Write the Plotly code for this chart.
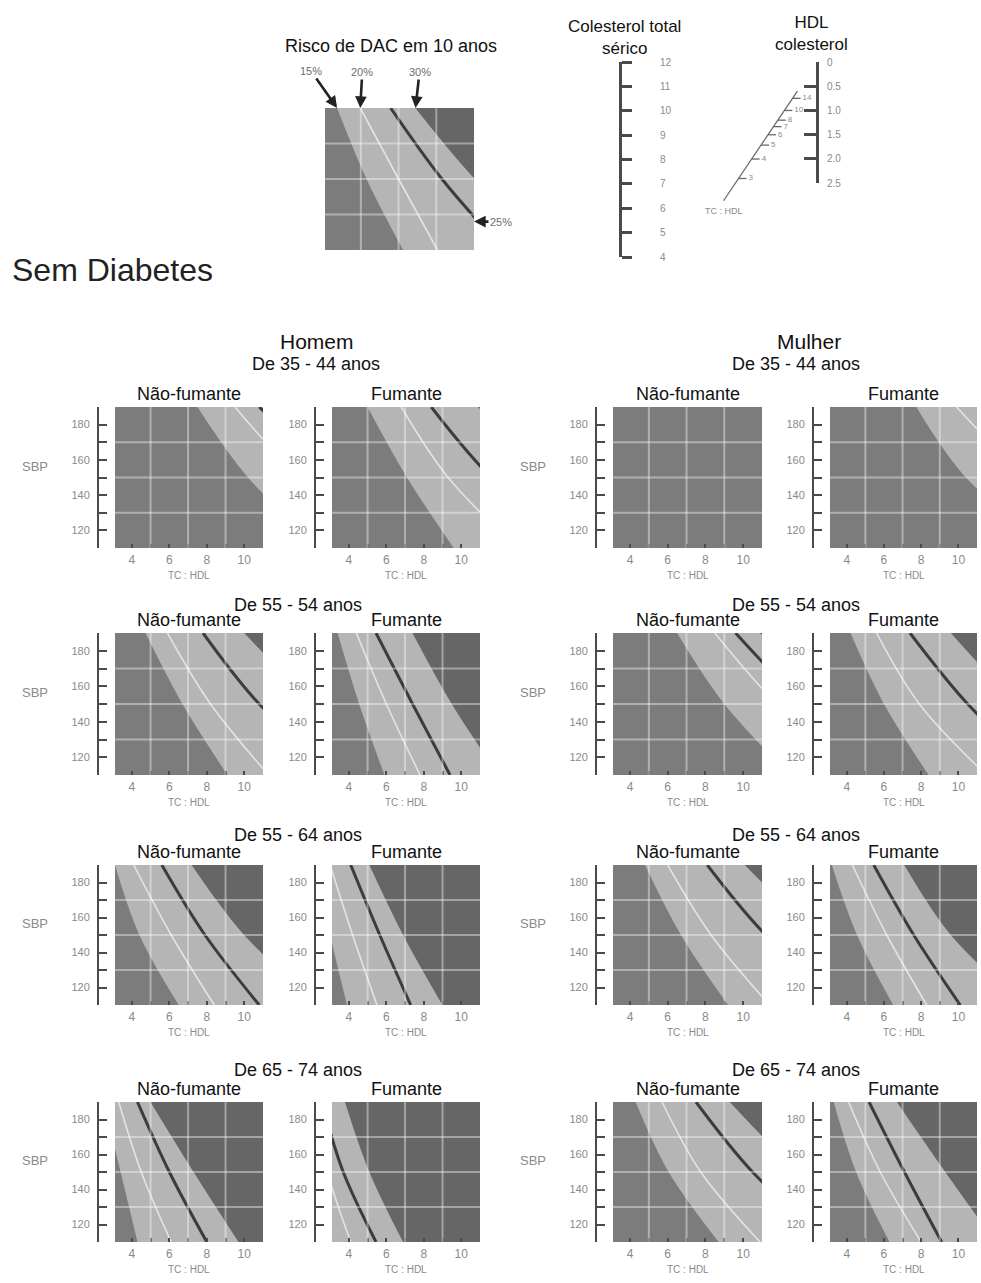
import plotly.graph_objects as go

W, H = 981, 1283
FONT = "Liberation Sans, Arial, sans-serif"

# ---------------- data ----------------
# SBP levels at which each iso-risk curve is read (TC:HDL value of the curve at that SBP)
SBP_PTS = [110, 150, 190]
X_RANGE = [3.1, 11.0]
Y_RANGE = [110, 190]
X_FAR = 60
GRID_X = [5, 7, 9]
GRID_Y = [130, 150, 170]
X_TICK0, X_DTICK = 4, 2
SBP_TICKS = [110, 120, 130, 140, 150, 160, 170, 180, 190]
SBP_TICK_LABELS = ["", "120", "", "140", "", "160", "", "180", ""]

RISK_LABELS = ["15%", "20%", "25%", "30%"]

# Legend panel
LEG_15 = [7.24, 5.3, 3.74]
LEG_20 = [9.06, 7.0, 4.97]
LEG_25 = [12.6, 9.3, 6.58]
LEG_30 = [15.0, 11.05, 7.9]
LEG_25_EXIT_SBP = 126

# Homem (men)
H35_NF_15 = [14.1, 10.2, 7.5];  H35_NF_20 = [18.0, 13.0, 9.5];  H35_NF_25 = [20.8, 15.0, 10.8]; H35_NF_30 = [26.0, 18.7, 13.5]
H35_F_15 = [9.6, 7.1, 5.0];     H35_F_20 = [13.0, 9.3, 6.8];    H35_F_25 = [16.1, 11.6, 8.4];   H35_F_30 = [21.0, 15.2, 10.9]
H45_NF_15 = [9.1, 6.7, 4.73];   H45_NF_20 = [11.3, 8.2, 5.9];   H45_NF_25 = [15.0, 10.8, 7.8];  H45_NF_30 = [19.2, 13.9, 10.0]
H45_F_15 = [5.9, 4.55, 3.4];    H45_F_20 = [7.8, 6.0, 4.4];     H45_F_25 = [9.4, 7.4, 5.45];    H45_F_30 = [12.0, 9.5, 7.4]
H55_NF_15 = [6.5, 4.4, 3.1];    H55_NF_20 = [8.4, 6.1, 4.1];    H55_NF_25 = [10.8, 7.9, 5.6];   H55_NF_30 = [14.0, 10.0, 7.2]
H55_F_15 = [3.9, 3.0, 2.2];     H55_F_20 = [5.5, 4.2, 3.0];     H55_F_25 = [7.3, 5.65, 4.1];    H55_F_30 = [9.0, 6.9, 5.1]
H65_NF_15 = [4.3, 3.4, 2.5];    H65_NF_20 = [6.1, 4.5, 3.3];    H65_NF_25 = [8.0, 6.0, 4.3];    H65_NF_30 = [9.7, 7.3, 5.0]
H65_F_15 = [3.0, 2.2, 1.6];     H65_F_20 = [4.1, 2.85, 2.0];    H65_F_25 = [5.45, 3.7, 2.55];   H65_F_30 = [6.9, 5.1, 3.8]

# Mulher (women)
M35_NF_15 = [23.0, 16.6, 12.0]; M35_NF_20 = [29.0, 21.0, 15.0]; M35_NF_25 = [36.0, 26.0, 19.0]; M35_NF_30 = [46.0, 33.0, 24.0]
M35_F_15 = [14.9, 10.4, 7.74];  M35_F_20 = [19.0, 13.7, 9.9];   M35_F_25 = [23.8, 17.2, 12.4];  M35_F_30 = [29.8, 21.5, 15.5]
M45_NF_15 = [12.5, 9.0, 6.5];   M45_NF_20 = [16.3, 11.8, 8.5];  M45_NF_25 = [18.4, 13.3, 9.6];  M45_NF_30 = [21.0, 15.1, 10.9]
M45_F_15 = [8.4, 6.0, 4.2];     M45_F_20 = [11.5, 7.9, 5.6];    M45_F_25 = [14.5, 10.5, 7.4];   M45_F_30 = [18.5, 13.3, 9.6]
M55_NF_15 = [9.2, 6.7, 4.8];    M55_NF_20 = [11.4, 8.3, 6.0];   M55_NF_25 = [15.5, 11.2, 8.1];  M55_NF_30 = [19.4, 14.0, 10.1]
M55_F_15 = [6.5, 4.55, 3.2];    M55_F_20 = [8.3, 6.15, 4.3];    M55_F_25 = [10.1, 7.6, 5.45];   M55_F_30 = [13.5, 9.6, 7.1]
M65_NF_15 = [8.7, 6.05, 4.3];   M65_NF_20 = [10.9, 7.75, 5.7];  M65_NF_25 = [14.5, 10.5, 7.5];  M65_NF_30 = [18.0, 13.0, 9.3]
M65_F_15 = [6.3, 4.5, 3.3];     M65_F_20 = [8.0, 5.8, 4.1];     M65_F_25 = [9.1, 7.1, 5.2];     M65_F_30 = [12.0, 9.3, 6.7]

AGE_LABELS = ["De 35 - 44 anos", "De 55 - 54 anos", "De 55 - 64 anos", "De 65 - 74 anos"]
SEX_LABELS = ["Homem", "Mulher"]
SMOKE_LABELS = ["Não-fumante", "Fumante"]

# Nomogram scales
TC_TICKS = [4, 5, 6, 7, 8, 9, 10, 11, 12]
HDL_TICKS = [0, 0.5, 1.0, 1.5, 2.0, 2.5]
HDL_TICK_LABELS = ["0", "0.5", "1.0", "1.5", "2.0", "2.5"]
RATIO_TICKS = [3, 4, 5, 6, 7, 8, 10, 14]
RATIO_RANGE = [2.2, 18]

# ---------------- style / layout constants ----------------
BASE = "#7c7c7c"
BAND = "#b5b5b5"
DARK2 = "#666666"
LINE20 = "#e4e4e4"
LINE25 = "#3c3c3c"
GRID = "rgba(255,255,255,0.40)"
AXIS_DARK = "#4a4a4a"
LABEL_GREY = "#8a8a8a"

COLS = [(115, 263), (332, 480), (613, 762), (830, 977)]
ROWS = [(407, 548), (633, 775), (865, 1005), (1102, 1242)]
AGE_Y = [364, 605, 835, 1070]
LEGEND_BOX = (325, 474, 108, 250)
BRACKET_GAP = 17

NOMO_TC_X, NOMO_HDL_X = 620, 817
NOMO_TOP, NOMO_TC_BOTTOM, NOMO_HDL_BOTTOM = 62, 257, 183

layout = dict(width=W, height=H, margin=dict(l=0, r=0, t=0, b=0), template="none",
              paper_bgcolor="white", plot_bgcolor="rgba(0,0,0,0)", showlegend=False,
              font=dict(family=FONT, color="#111"))
shapes, annotations = [], []
fig = go.Figure()


def text_note(text, x, y, size, color="#111", xref="paper", yref="paper", **kw):
    d = dict(text=text, x=x, y=y, xref=xref, yref=yref, showarrow=False,
             xanchor="center", yanchor="middle", font=dict(size=size, color=color))
    d.update(kw)
    annotations.append(d)


def names(n):
    return ("x" if n == 1 else f"x{n}", "y" if n == 1 else f"y{n}",
            "xaxis" if n == 1 else f"xaxis{n}", "yaxis" if n == 1 else f"yaxis{n}")


def add_panel(n, curves, box, axes=True):
    c15, c20, c25, c30 = curves
    xa, ya, xk, yk = names(n)
    x0, x1, y0, y1 = box
    xd = [x0 / W, x1 / W]
    yd = [1 - y1 / H, 1 - y0 / H]
    common = dict(showgrid=False, zeroline=False, fixedrange=True)
    if axes:
        layout[xk] = dict(domain=xd, range=X_RANGE, anchor=ya, showline=False,
                          tickmode="linear", tick0=X_TICK0, dtick=X_DTICK,
                          ticks="inside", ticklen=4, tickwidth=1.5, tickcolor=AXIS_DARK,
                          minor=dict(dtick=1, ticks="inside", ticklen=4, tickwidth=1.5,
                                     tickcolor=AXIS_DARK, showgrid=False),
                          tickfont=dict(size=12, color=LABEL_GREY), ticklabelstandoff=3, **common)
        layout[yk] = dict(domain=yd, range=Y_RANGE, anchor="free", position=(x0 - BRACKET_GAP) / W,
                          showline=True, linecolor=AXIS_DARK, linewidth=2,
                          tickmode="array", tickvals=SBP_TICKS, ticktext=SBP_TICK_LABELS,
                          ticks="inside", ticklen=8, tickwidth=1.5, tickcolor=AXIS_DARK,
                          tickfont=dict(size=11, color=LABEL_GREY), ticklabelstandoff=5, **common)
        text_note("TC : HDL", 0.5, 0, 10, LABEL_GREY, xref=f"{xa} domain", yref=f"{ya} domain", yshift=-27)
    else:
        layout[xk] = dict(domain=xd, range=X_RANGE, anchor=ya, visible=False, **common)
        layout[yk] = dict(domain=yd, range=Y_RANGE, anchor=xa, visible=False, **common)

    shapes.append(dict(type="rect", xref=f"{xa} domain", yref=f"{ya} domain", x0=0, x1=1, y0=0, y1=1,
                       fillcolor=BASE, line=dict(width=0), layer="below"))
    tr = dict(xaxis=xa, yaxis=ya, showlegend=False, hoverinfo="skip")
    fig.add_trace(go.Scatter(x=c15, y=SBP_PTS, mode="lines", line=dict(width=0, shape="spline"), **tr))
    fig.add_trace(go.Scatter(x=c30, y=SBP_PTS, mode="lines", line=dict(width=0, shape="spline"),
                             fill="tonextx", fillcolor=BAND, **tr))
    fig.add_trace(go.Scatter(x=[X_FAR] * len(SBP_PTS), y=SBP_PTS, mode="lines", line=dict(width=0),
                             fill="tonextx", fillcolor=DARK2, **tr))
    fig.add_trace(go.Scatter(x=c20, y=SBP_PTS, mode="lines",
                             line=dict(width=1.6, color=LINE20, shape="spline"), **tr))
    fig.add_trace(go.Scatter(x=c25, y=SBP_PTS, mode="lines",
                             line=dict(width=3, color=LINE25, shape="spline"), **tr))
    for gx in GRID_X:
        shapes.append(dict(type="line", xref=xa, yref=f"{ya} domain", x0=gx, x1=gx, y0=0, y1=1,
                           line=dict(color=GRID, width=2), layer="above"))
    for gy in GRID_Y:
        shapes.append(dict(type="line", xref=f"{xa} domain", yref=ya, x0=0, x1=1, y0=gy, y1=gy,
                           line=dict(color=GRID, width=2), layer="above"))
    return xa, ya


PANELS = [
    [(H35_NF_15, H35_NF_20, H35_NF_25, H35_NF_30), (H35_F_15, H35_F_20, H35_F_25, H35_F_30),
     (M35_NF_15, M35_NF_20, M35_NF_25, M35_NF_30), (M35_F_15, M35_F_20, M35_F_25, M35_F_30)],
    [(H45_NF_15, H45_NF_20, H45_NF_25, H45_NF_30), (H45_F_15, H45_F_20, H45_F_25, H45_F_30),
     (M45_NF_15, M45_NF_20, M45_NF_25, M45_NF_30), (M45_F_15, M45_F_20, M45_F_25, M45_F_30)],
    [(H55_NF_15, H55_NF_20, H55_NF_25, H55_NF_30), (H55_F_15, H55_F_20, H55_F_25, H55_F_30),
     (M55_NF_15, M55_NF_20, M55_NF_25, M55_NF_30), (M55_F_15, M55_F_20, M55_F_25, M55_F_30)],
    [(H65_NF_15, H65_NF_20, H65_NF_25, H65_NF_30), (H65_F_15, H65_F_20, H65_F_25, H65_F_30),
     (M65_NF_15, M65_NF_20, M65_NF_25, M65_NF_30), (M65_F_15, M65_F_20, M65_F_25, M65_F_30)],
]

n = 1
for r, row in enumerate(PANELS):
    y0, y1 = ROWS[r]
    for c, curves in enumerate(row):
        x0, x1 = COLS[c]
        xa, ya = add_panel(n, curves, (x0, x1, y0, y1))
        text_note(SMOKE_LABELS[c % 2], 0.5, 1, 18, xref=f"{xa} domain", yref=f"{ya} domain", yshift=13)
        if c % 2 == 0:
            text_note("SBP", 0, 0.58, 13, LABEL_GREY, xref=f"{xa} domain", yref=f"{ya} domain", xshift=-80)
        n += 1
    for s in range(2):
        cx = (COLS[2 * s][0] + COLS[2 * s][1] + COLS[2 * s + 1][0] + COLS[2 * s + 1][1]) / 4
        if r == 0 and s == 0:
            cx = 316
        text_note(AGE_LABELS[r], cx / W, 1 - AGE_Y[r] / H, 18)

for s, cx in enumerate([317, 809]):
    text_note(SEX_LABELS[s], cx / W, 1 - 341 / H, 21)

# Legend panel
lxa, lya = add_panel(17, (LEG_15, LEG_20, LEG_25, LEG_30), LEGEND_BOX, axes=False)
arrow_style = dict(showarrow=True, arrowhead=2, arrowsize=0.9, arrowwidth=2.6, arrowcolor="#222",
                   font=dict(size=11, color="#6e6e6e"), xref=lxa, yref=lya)
annotations.append(dict(text=RISK_LABELS[0], x=LEG_15[-1], y=Y_RANGE[1], ax=-26, ay=-37, **arrow_style))
annotations.append(dict(text=RISK_LABELS[1], x=LEG_20[-1], y=Y_RANGE[1], ax=2, ay=-36, **arrow_style))
annotations.append(dict(text=RISK_LABELS[3], x=LEG_30[-1], y=Y_RANGE[1], ax=4, ay=-36, **arrow_style))
annotations.append(dict(text=RISK_LABELS[2], x=X_RANGE[1], y=LEG_25_EXIT_SBP, ax=27, ay=0, **arrow_style))
text_note("Risco de DAC em 10 anos", 391 / W, 1 - 46 / H, 18)
text_note("Sem Diabetes", 10 / W, 1 - 270 / H, 32, "#222", xanchor="left")

# Nomogram: TC scale (subplot 18) and HDL scale (subplot 19)
layout["xaxis18"] = dict(domain=[NOMO_TC_X / W, NOMO_HDL_X / W], range=[0, 1], anchor="y18",
                         visible=False, fixedrange=True)
layout["yaxis18"] = dict(domain=[1 - NOMO_TC_BOTTOM / H, 1 - NOMO_TOP / H], range=[TC_TICKS[0], TC_TICKS[-1]],
                         anchor="free", position=NOMO_TC_X / W, side="right", showline=True, linewidth=3,
                         linecolor=AXIS_DARK, ticks="outside", ticklen=10, tickwidth=2.5, tickcolor=AXIS_DARK,
                         tickmode="array", tickvals=TC_TICKS, tickfont=dict(size=10, color=LABEL_GREY),
                         ticklabelstandoff=26, showgrid=False, zeroline=False, fixedrange=True)
layout["xaxis19"] = dict(domain=[(NOMO_HDL_X - 20) / W, NOMO_HDL_X / W], range=[0, 1], anchor="y19",
                         visible=False, fixedrange=True)
layout["yaxis19"] = dict(domain=[1 - NOMO_HDL_BOTTOM / H, 1 - NOMO_TOP / H], range=[HDL_TICKS[-1], HDL_TICKS[0]],
                         anchor="free", position=NOMO_HDL_X / W, side="right", showline=True, linewidth=3,
                         linecolor=AXIS_DARK, ticks="inside", ticklen=12, tickwidth=2.5, tickcolor=AXIS_DARK,
                         tickmode="array", tickvals=HDL_TICKS, ticktext=HDL_TICK_LABELS,
                         tickfont=dict(size=10, color=LABEL_GREY), ticklabelstandoff=6,
                         showgrid=False, zeroline=False, fixedrange=True)
fig.add_trace(go.Scatter(x=[1] * len(HDL_TICKS), y=HDL_TICKS, mode="markers", marker=dict(size=1, opacity=0),
                         xaxis="x19", yaxis="y19", showlegend=False, hoverinfo="skip"))

# TC:HDL ratio scale of the nomogram, placed from the geometry of the two scales
tc_ppu = (NOMO_TC_BOTTOM - NOMO_TOP) / (TC_TICKS[-1] - TC_TICKS[0])
hdl_ppu = (NOMO_HDL_BOTTOM - NOMO_TOP) / (HDL_TICKS[-1] - HDL_TICKS[0])
k = hdl_ppu / tc_ppu
T0 = TC_TICKS[-1]


def ratio_pos(rv):
    s = rv / (rv + k)
    return s, T0 * s


ends = [ratio_pos(rv) for rv in RATIO_RANGE]
fig.add_trace(go.Scatter(x=[p[0] for p in ends], y=[p[1] for p in ends], mode="lines",
                         line=dict(color="#6a6a6a", width=1.3), xaxis="x18", yaxis="y18",
                         showlegend=False, hoverinfo="skip"))
TICK_S = 8 / (NOMO_HDL_X - NOMO_TC_X)
tx, ty = [], []
for rv in RATIO_TICKS:
    s, yv = ratio_pos(rv)
    tx += [s, s + TICK_S, None]
    ty += [yv, yv, None]
fig.add_trace(go.Scatter(x=tx, y=ty, mode="lines", line=dict(color="#6a6a6a", width=1.3),
                         xaxis="x18", yaxis="y18", showlegend=False, hoverinfo="skip"))
fig.add_trace(go.Scatter(x=[ratio_pos(rv)[0] + TICK_S * 1.25 for rv in RATIO_TICKS],
                         y=[ratio_pos(rv)[1] for rv in RATIO_TICKS], mode="text",
                         text=[str(rv) for rv in RATIO_TICKS], textposition="middle right",
                         textfont=dict(size=8, color=LABEL_GREY), xaxis="x18", yaxis="y18",
                         showlegend=False, hoverinfo="skip"))
s0, y0v = ratio_pos(RATIO_RANGE[0])
text_note("TC : HDL", s0, y0v, 9, LABEL_GREY, xref="x18", yref="y18", yanchor="top", yshift=-3)
text_note("Colesterol total<br>sérico", 624 / W, 1 - 38 / H, 17)
text_note("HDL<br>colesterol", 811 / W, 1 - 33 / H, 17)

layout["shapes"] = shapes
layout["annotations"] = annotations
fig.update_layout(**layout)
fig.write_html("out.html")
